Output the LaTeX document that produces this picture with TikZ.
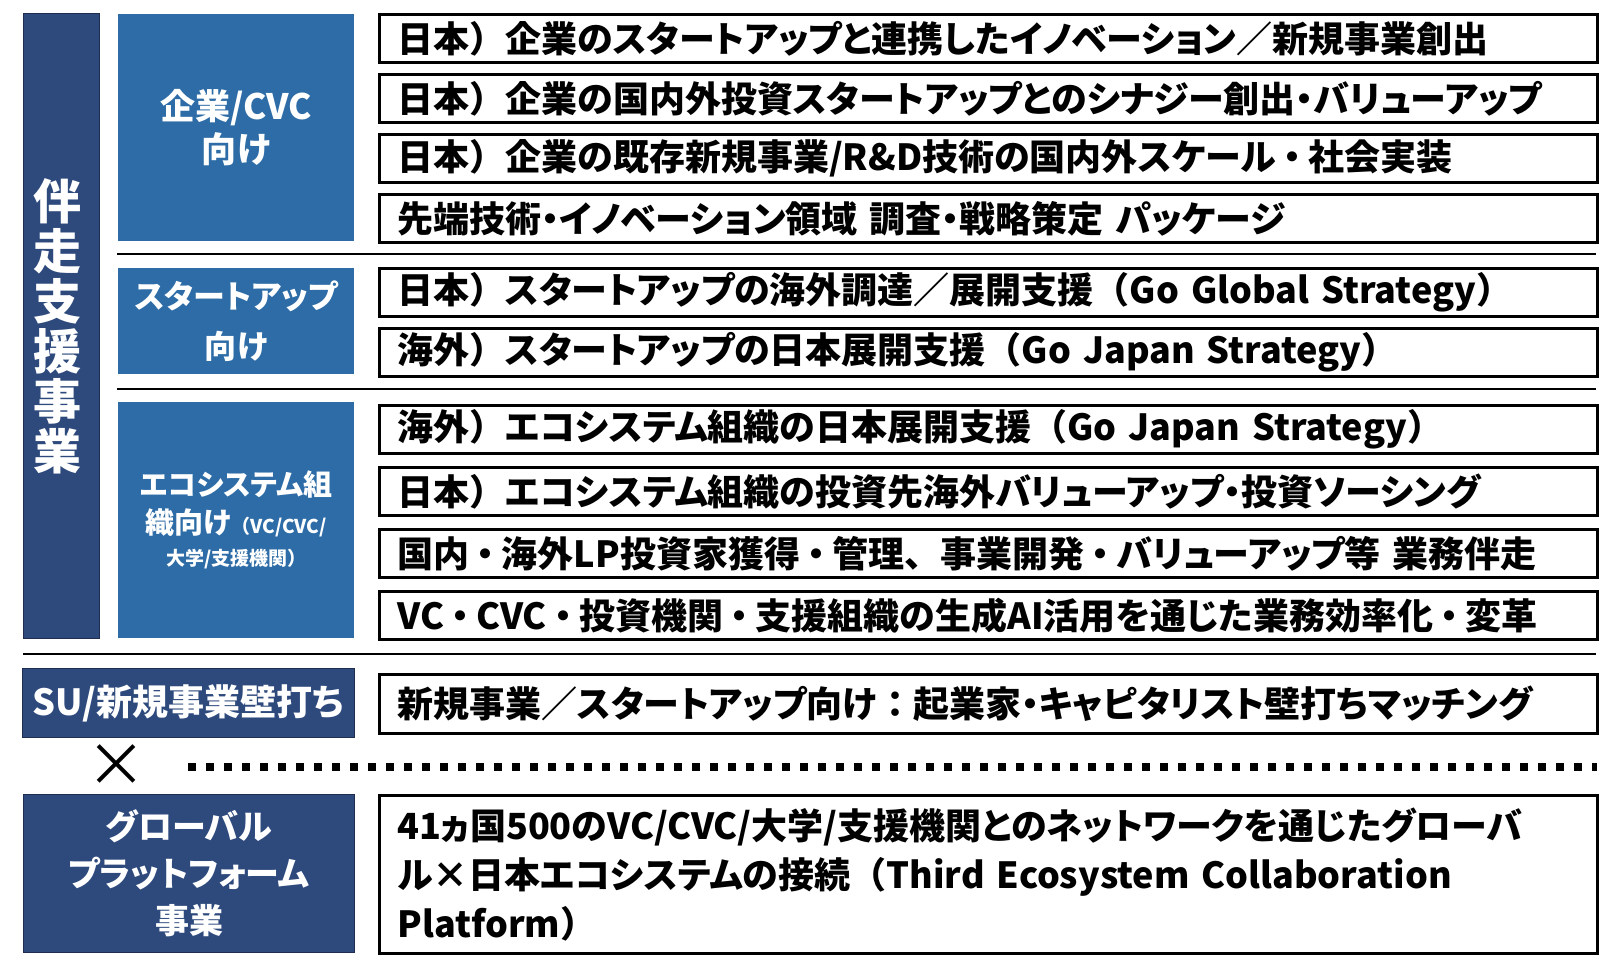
\documentclass[tikz,border=0pt]{standalone}
\usepackage{fontspec}
\setmainfont{Noto Sans CJK JP}[RawFeature=+palt]
\newfontfamily\jpfw{Noto Sans CJK JP}
\definecolor{navy}{RGB}{46,74,125}
\definecolor{navyedge}{RGB}{30,45,80}
\definecolor{bluefill}{RGB}{45,108,166}
\newcommand\rowfnt{\fontsize{36}{40}\selectfont\bfseries}
\newcommand\lpar{{\jpfw （}}
\newcommand\rpar{{\jpfw ）}}
\newcommand\slsh{{\jpfw ／}}
\newcommand\fdot{\kern0.2em・\kern0.2em}
\newcommand\fcomma{{\jpfw 、}}
\newcommand\fcolon{{\jpfw ：}}
\begin{document}
\begin{tikzpicture}[x=1pt,y=-1pt,
  navybox/.style={draw=navyedge, fill=navy, line width=1pt, text=white, align=center, anchor=north west, inner sep=0pt},
  bluebox/.style={fill=bluefill, text=white, align=center, anchor=north west, inner sep=0pt, minimum width=236pt},
  rowbox/.style={draw=black, line width=3pt, fill=white, anchor=north west, inner xsep=18pt, inner ysep=0pt, align=left, text width=1182pt, minimum height=48pt, font=\rowfnt},
  sepline/.style={draw=black, line width=1.3pt},
  dotline/.style={draw=black, line width=8pt, dash pattern=on 8pt off 10pt}]
\useasboundingbox (0,0) rectangle (1601,974);
\fill[white] (0,0) rectangle (1601,974);

% left tall box
\node[navybox, minimum width=76pt, minimum height=625pt] (main) at (23,13) {};
\node[text=white, align=center, font=\fontsize{48}{50}\selectfont\bfseries] (maintxt) at (57,326) {伴\\走\\支\\援\\事\\業};

% category boxes
\node[bluebox, minimum height=227pt, font=\fontsize{35}{43}\selectfont\bfseries] (corp) at (118,14) {企業/CVC\\向け};
\node[bluebox, minimum height=106pt, font=\fontsize{32}{50}\selectfont\bfseries] (su) at (118,268) {スタートアップ\\向け};
\node[bluebox, minimum height=236pt, font=\fontsize{29}{38}\selectfont\bfseries] (eco) at (118,402) {エコシステム組\\織向け{\fontsize{19}{24}\selectfont \lpar VC/CVC/}\\[-6pt]{\fontsize{19}{24}\selectfont 大学/支援機関\rpar}};

% rows
\node[rowbox] (r1) at (378,13) {日本\rpar 企業のスタートアップと連携したイノベーション\slsh 新規事業創出};
\node[rowbox] (r2) at (378,73) {日本\rpar 企業の国内外投資スタートアップとのシナジー創出・バリューアップ};
\node[rowbox] (r3) at (378,133) {日本\rpar 企業の既存新規事業/R\&D技術の国内外スケール\fdot 社会実装};
\node[rowbox] (r4) at (378,193) {先端技術・イノベーション領域 調査・戦略策定 パッケージ};
\node[rowbox] (r5) at (378,267) {日本\rpar スタートアップの海外調達\slsh 展開支援\lpar Go Global Strategy\rpar};
\node[rowbox] (r6) at (378,327) {海外\rpar スタートアップの日本展開支援\lpar Go Japan Strategy\rpar};
\node[rowbox] (r7) at (378,404) {海外\rpar エコシステム組織の日本展開支援\lpar Go Japan Strategy\rpar};
\node[rowbox] (r8) at (378,466) {日本\rpar エコシステム組織の投資先海外バリューアップ・投資ソーシング};
\node[rowbox] (r9) at (378,528) {国内\fdot 海外LP投資家獲得\fdot 管理\fcomma 事業開発\fdot バリューアップ等 業務伴走};
\node[rowbox] (r10) at (378,590) {VC\fdot CVC\fdot 投資機関\fdot 支援組織の生成AI活用を通じた業務効率化\fdot 変革};

% separators
\coordinate (s1a) at (117,254); \coordinate (s1b) at (1596,254);
\coordinate (s2a) at (117,389); \coordinate (s2b) at (1596,389);
\coordinate (s3a) at (23,654);  \coordinate (s3b) at (1596,654);
\draw[sepline] (s1a) -- (s1b);
\draw[sepline] (s2a) -- (s2b);
\draw[sepline] (s3a) -- (s3b);

% SU row
\node[navybox, minimum width=332pt, minimum height=69pt, font=\fontsize{36}{40}\selectfont\bfseries] (sulbl) at (22,668) {SU/新規事業壁打ち};
\node[rowbox, minimum height=59pt] (surow) at (378,673) {新規事業\slsh スタートアップ向け\fcolon 起業家・キャピタリスト壁打ちマッチング};

% times and dotted line
\node[font=\fontsize{60}{60}\selectfont] (times) at (116,766) {×};
\coordinate (d1) at (188,767); \coordinate (d2) at (1597,767);
\draw[dotline] (d1) -- (d2);

% global row
\node[navybox, minimum width=331pt, minimum height=158pt, font=\fontsize{34}{47}\selectfont\bfseries] (gl) at (23,794) {グローバル\\プラットフォーム\\事業};
\node[rowbox, minimum height=158pt, font=\fontsize{36}{49}\selectfont\bfseries] (glrow) at (378,794) {41ヵ国500のVC/CVC/大学/支援機関とのネットワークを通じたグローバ\\ル×日本エコシステムの接続\lpar Third Ecosystem Collaboration\\Platform\rpar};
\end{tikzpicture}
\end{document}
